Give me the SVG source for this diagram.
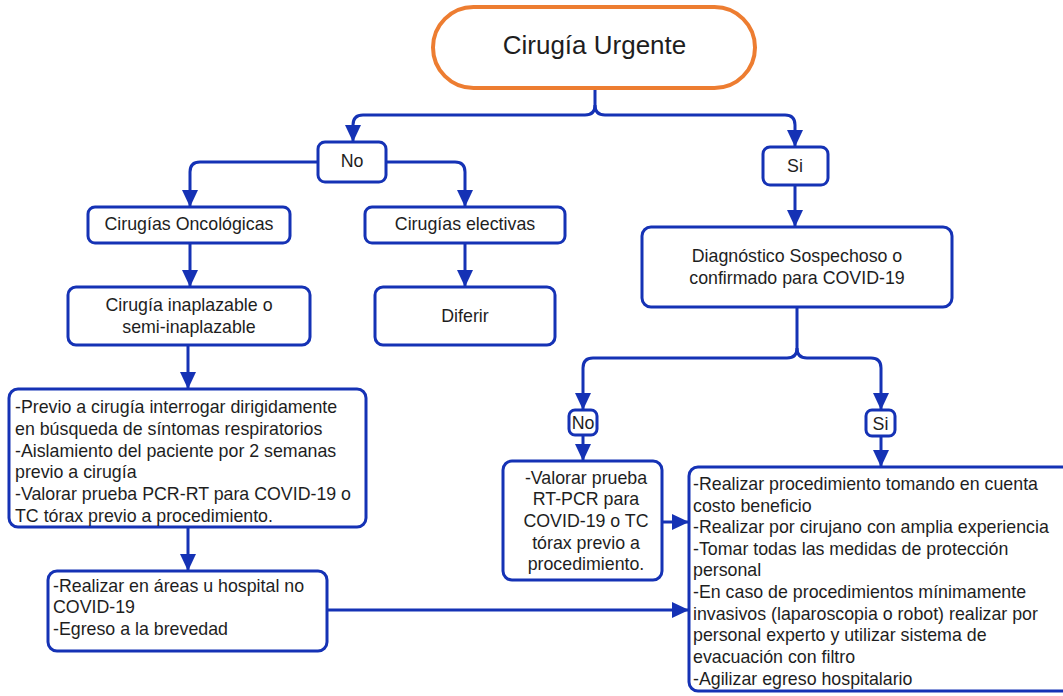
<svg xmlns="http://www.w3.org/2000/svg" width="1063" height="696" viewBox="0 0 1063 696">
<defs>
<marker id="ah" markerUnits="userSpaceOnUse" markerWidth="17" markerHeight="16" viewBox="0 0 17 16" refX="17" refY="8" orient="auto">
<path d="M0 0 L17 8 L0 16 Z" fill="#1532b5"/>
</marker>
<style>
.box{fill:#fff;stroke:#1532b5;stroke-width:3}
.ca{fill:none;stroke:#1532b5;stroke-width:3;marker-end:url(#ah)}
text{font-family:"Liberation Sans",Arial,sans-serif;font-size:17.8px;fill:#1e1e1e}
.m{text-anchor:middle}
</style>
</defs>
<rect width="1063" height="696" fill="#fff"/>
<g id="connectors">
<path class="ca" d="M595 88 V105 Q595 115 585 115 H363 Q353 115 353 125 V142"/>
<path class="ca" d="M595 105 Q595 115 605 115 H785 Q795 115 795 125 V147"/>
<path class="ca" d="M318 162 H200 Q190 162 190 172 V207"/>
<path class="ca" d="M386 162 H455 Q465 162 465 172 V207"/>
<path class="ca" d="M190 243 V287"/>
<path class="ca" d="M465 243 V287"/>
<path class="ca" d="M188 345 V389"/>
<path class="ca" d="M188 527 V571"/>
<path class="ca" d="M327 610 H689"/>
<path class="ca" d="M795 185 V227"/>
<path class="ca" d="M797 307 V348 Q797 358 787 358 H593 Q583 358 583 368 V410"/>
<path class="ca" d="M797 348 Q797 358 807 358 H871 Q881 358 881 368 V410"/>
<path class="ca" d="M583 435 V461"/>
<path class="ca" d="M881 436 V467"/>
<path class="ca" d="M662 522 H689"/>
</g>
<g id="n-urgente">
<rect x="433" y="7" width="322" height="81" rx="40.5" fill="#fff" stroke="#ed7d31" stroke-width="4"/>
<text x="594.5" y="54" class="m" style="font-size:26px">Cirugía Urgente</text>
</g>
<g id="n-no1"><rect class="box" x="318" y="142" width="68" height="40" rx="7"/><text x="352" y="167" class="m">No</text></g>
<g id="n-si1"><rect class="box" x="763" y="147" width="65" height="38" rx="7"/><text x="795" y="172" class="m">Si</text></g>
<g id="n-onco"><rect class="box" x="88" y="207" width="202" height="36" rx="7"/><text x="189" y="230" class="m">Cirugías Oncológicas</text></g>
<g id="n-elect"><rect class="box" x="365" y="207" width="200" height="36" rx="7"/><text x="465" y="230" class="m">Cirugías electivas</text></g>
<g id="n-inapl"><rect class="box" x="68" y="287" width="242" height="58" rx="8"/><text x="189" y="310.5" class="m">Cirugía inaplazable o</text><text x="189" y="332.5" class="m">semi-inaplazable</text></g>
<g id="n-diferir"><rect class="box" x="375" y="287" width="180" height="58" rx="8"/><text x="465" y="321.5" class="m">Diferir</text></g>
<g id="n-previo"><rect class="box" x="9" y="389" width="357" height="138" rx="9"/>
<text x="15" y="413">-Previo a cirugía interrogar dirigidamente</text>
<text x="15" y="435">en búsqueda de síntomas respiratorios</text>
<text x="15" y="456.5">-Aislamiento del paciente por 2 semanas</text>
<text x="15" y="478">previo a cirugía</text>
<text x="15" y="500">-Valorar prueba PCR-RT para COVID-19 o</text>
<text x="15" y="521.5">TC tórax previo a procedimiento.</text>
</g>
<g id="n-realizar"><rect class="box" x="48" y="571" width="279" height="80" rx="9"/>
<text x="53" y="591.5">-Realizar en áreas u hospital no</text>
<text x="53" y="613">COVID-19</text>
<text x="53" y="634.5">-Egreso a la brevedad</text>
</g>
<g id="n-diag"><rect class="box" x="642" y="227" width="310" height="80" rx="9"/>
<text x="797" y="261.5" class="m">Diagnóstico Sospechoso o</text>
<text x="797" y="283.5" class="m">confirmado para COVID-19</text>
</g>
<g id="n-no2"><rect class="box" x="569" y="410" width="28" height="25" rx="6"/><text x="583" y="429" class="m">No</text></g>
<g id="n-si2"><rect class="box" x="866" y="410" width="29" height="26" rx="6"/><text x="880.5" y="429.5" class="m">Si</text></g>
<g id="n-valorar"><rect class="box" x="503" y="461" width="159" height="119" rx="9"/>
<text x="586" y="483.5" class="m">-Valorar prueba</text>
<text x="586" y="504.5" class="m">RT-PCR para</text>
<text x="586" y="526.5" class="m">COVID-19 o TC</text>
<text x="586" y="548.5" class="m">tórax previo a</text>
<text x="586" y="569.5" class="m">procedimiento.</text>
</g>
<g id="n-proc"><rect class="box" x="689" y="467" width="390" height="224" rx="9"/>
<text x="693" y="490">-Realizar procedimiento tomando en cuenta</text>
<text x="693" y="511.5">costo beneficio</text>
<text x="693" y="533">-Realizar por cirujano con amplia experiencia</text>
<text x="693" y="554.5">-Tomar todas las medidas de protección</text>
<text x="693" y="576">personal</text>
<text x="693" y="598">-En caso de procedimientos mínimamente</text>
<text x="693" y="619.5">invasivos (laparoscopia o robot) realizar por</text>
<text x="693" y="641">personal experto y utilizar sistema de</text>
<text x="693" y="663">evacuación con filtro</text>
<text x="693" y="684.5">-Agilizar egreso hospitalario</text>
</g>
</svg>
